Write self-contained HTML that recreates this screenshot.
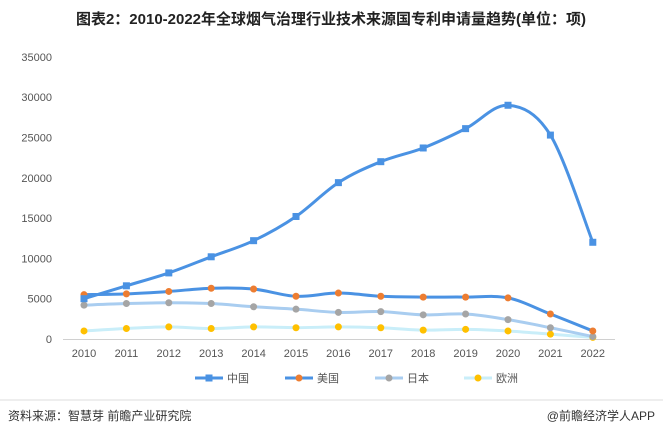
<!DOCTYPE html>
<html><head><meta charset="utf-8"><style>
body{margin:0;width:663px;height:438px;background:#fff;overflow:hidden;font-family:"Liberation Sans","Noto Sans CJK SC",sans-serif}
</style></head><body>
<svg id="s" width="663" height="438" xmlns="http://www.w3.org/2000/svg" font-family="Liberation Sans, Noto Sans CJK SC, sans-serif">
<text x="331" y="24" text-anchor="middle" font-size="15" font-weight="bold" fill="#222">图表2：2010-2022年全球烟气治理行业技术来源国专利申请量趋势(单位：项)</text>
<line x1="0" y1="400" x2="663" y2="400" stroke="#ddd"/>
<text x="8" y="420" font-size="12" fill="#333">资料来源：智慧芽 前瞻产业研究院</text>
<text x="655" y="420" font-size="12" fill="#333" text-anchor="end">@前瞻经济学人APP</text>
<line x1="63" y1="339.5" x2="615" y2="339.5" stroke="#d0d0d0"/>
<g id="g"></g>
</svg>
<script>
var g=document.getElementById('g'),NS='http://www.w3.org/2000/svg';
function el(t,a,txt){var e=document.createElementNS(NS,t);for(var k in a)e.setAttribute(k,a[k]);if(txt)e.textContent=txt;g.appendChild(e);return e;}
function Y(v){return 339-v/5000*40.3}
function X(i){return 84+i*42.4}
for(var v=0;v<=35000;v+=5000)el('text',{x:52,y:Y(v)+4,'font-size':11,fill:'#555','text-anchor':'end'},String(v));
for(var i=0;i<13;i++)el('text',{x:X(i),y:357,'font-size':11,fill:'#555','text-anchor':'middle'},String(2010+i));
var S=[
{d:[1000,1300,1500,1300,1500,1400,1500,1400,1100,1200,1000,600,200],lc:'#c9eef9',mc:'#ffc000',m:'c'},
{d:[4200,4400,4500,4400,4000,3700,3300,3400,3000,3100,2400,1400,300],lc:'#a9cdf0',mc:'#a5a5a5',m:'c'},
{d:[5500,5600,5900,6300,6200,5300,5700,5300,5200,5200,5100,3100,1000],lc:'#4a92e3',mc:'#ed7d31',m:'c'},
{d:[5000,6600,8200,10200,12200,15200,19400,22000,23700,26100,29000,25300,12000],lc:'#4a92e3',mc:'#4a92e3',m:'s'}];
S.forEach(function(s){
 var p=s.d.map(function(v,i){return [X(i),Y(v)]});
 var d='M'+p[0];
 for(var i=0;i<p.length-1;i++){var a=p[i-1]||p[i],b=p[i],c=p[i+1],e=p[i+2]||c;
  d+=' C'+(b[0]+(c[0]-a[0])/6)+','+(b[1]+(c[1]-a[1])/6)+' '+(c[0]-(e[0]-b[0])/6)+','+(c[1]-(e[1]-b[1])/6)+' '+c[0]+','+c[1];}
 el('path',{d:d,fill:'none',stroke:s.lc,'stroke-width':3});
 p.forEach(function(q){ if(s.m=='s')el('rect',{x:q[0]-3.5,y:q[1]-3.5,width:7,height:7,fill:s.mc});else el('circle',{cx:q[0],cy:q[1],r:3.5,fill:s.mc});});
});
var L=[['中国','#4a92e3','#4a92e3','s',195],['美国','#4a92e3','#ed7d31','c',285],['日本','#a9cdf0','#a5a5a5','c',375],['欧洲','#c9eef9','#ffc000','c',464]];
L.forEach(function(l){var x=l[4],y=378;el('line',{x1:x,y1:y,x2:x+28,y2:y,stroke:l[1],'stroke-width':3});
 if(l[3]=='s')el('rect',{x:x+10.5,y:y-3.5,width:7,height:7,fill:l[2]});else el('circle',{cx:x+14,cy:y,r:3.5,fill:l[2]});
 el('text',{x:x+32,y:y+4,'font-size':11,fill:'#555'},l[0]);});
</script>
</body></html>
